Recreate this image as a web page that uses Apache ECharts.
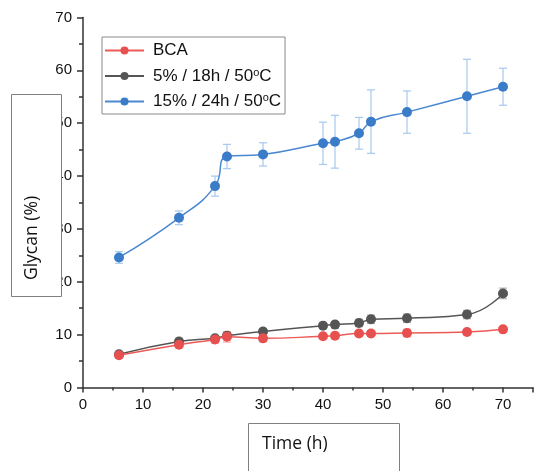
<!DOCTYPE html>
<html>
<head>
<meta charset="utf-8">
<script src="https://cdn.jsdelivr.net/npm/echarts@6/dist/echarts.min.js"></script>
<style>html,body{margin:0;padding:0;background:#fff}#c{width:536px;height:471px}</style>
</head>
<body>
<div id="c"></div>
<script>
var timeH = [6, 16, 22, 24, 30, 40, 42, 46, 48, 54, 64, 70];
var bcaVals = [6.1, 8.1, 9.1, 9.6, 9.3, 9.7, 9.8, 10.2, 10.2, 10.3, 10.5, 11.0];
var bcaErr = [0.5, 0.5, 0.7, 1.0, 0.5, 0.4, 0.4, 0.5, 0.5, 0.7, 0.4, 0.4];
var lowVals = [6.3, 8.7, 9.3, 9.8, 10.6, 11.7, 11.9, 12.2, 12.9, 13.1, 13.8, 17.8];
var lowErr = [0.4, 0.6, 0.5, 0.7, 0.4, 0.4, 0.6, 0.7, 0.8, 0.8, 0.8, 1.0];
var highVals = [24.6, 32.1, 38.1, 43.7, 44.1, 46.2, 46.5, 48.1, 50.3, 52.1, 55.1, 56.9];
var highErr = [1.1, 1.3, 1.9, 2.3, 2.2, 4.0, 5.0, 3.0, 6.0, 4.0, 7.0, 3.5];
var seriesNames = ['BCA', '5% / 18h / 50\u00BAC', '15% / 24h / 50\u00BAC'];
var xTicks = [0, 10, 20, 30, 40, 50, 60, 70];
var yTicks = [0, 10, 20, 30, 40, 50, 60, 70];

function pts(v) { return timeH.map(function (t, i) { return [t, v[i]]; }); }
function errPts(v, e) { return timeH.map(function (t, i) { return [t, v[i], e[i]]; }); }

function errSeries(v, e, color, z) {
  return {
    type: 'custom', silent: true, z: z,
    data: errPts(v, e),
    renderItem: function (params, api) {
      var x = api.value(0), y = api.value(1), d = api.value(2);
      var top = api.coord([x, y + d]);
      var bot = api.coord([x, y - d]);
      var hw = 4;
      var st = { stroke: color, lineWidth: 1.2 };
      return {
        type: 'group',
        children: [
          { type: 'line', shape: { x1: top[0], y1: top[1], x2: bot[0], y2: bot[1] }, style: st },
          { type: 'line', shape: { x1: top[0] - hw, y1: top[1], x2: top[0] + hw, y2: top[1] }, style: st },
          { type: 'line', shape: { x1: bot[0] - hw, y1: bot[1], x2: bot[0] + hw, y2: bot[1] }, style: st }
        ]
      };
    }
  };
}

function lineSeries(name, v, color, lineColor, z) {
  return {
    name: name, type: 'line', data: pts(v), smooth: 0.5, z: z,
    symbol: 'circle', symbolSize: 10,
    itemStyle: { color: color },
    lineStyle: { color: lineColor, width: 1.5 },
    emphasis: { disabled: true }
  };
}

var chart = echarts.init(document.getElementById('c'));
var axisFont = 'Liberation Sans';
chart.setOption({
  animation: false,
  grid: { left: 83, right: -7, top: 17.5, bottom: 83.5, containLabel: false },
  legend: {
    left: 102, top: 37,
    orient: 'vertical',
    data: seriesNames,
    itemWidth: 39, itemHeight: 10, itemGap: 8,
    padding: [5, 4, 4, 2],
    borderColor: '#8a8a8a', borderWidth: 1,
    backgroundColor: '#fff',
    textStyle: {
      fontFamily: axisFont, fontSize: 17, color: '#111', padding: [0, 0, 0, 4],
      rich: { sup: { fontFamily: axisFont, fontSize: 11, verticalAlign: 'top', padding: [0, 0, 7, 0], color: '#111' } }
    },
    formatter: function (n) { return n.replace('\u00BAC', '{sup|o}C'); },
    selectedMode: false
  },
  xAxis: {
    type: 'value', min: 0, max: 75, interval: 10,
    axisLine: { lineStyle: { color: '#333', width: 1.5 } },
    axisTick: { length: 5, lineStyle: { color: '#333', width: 1.5 } },
    minorTick: { show: true, splitNumber: 2, length: 3, lineStyle: { color: '#333', width: 1.5 } },
    splitLine: { show: false },
    axisLabel: {
      margin: 10, fontFamily: axisFont, fontSize: 15, color: '#111',
      formatter: function (v) { return xTicks.indexOf(v) >= 0 ? String(v) : ''; }
    }
  },
  yAxis: {
    type: 'value', min: 0, max: 70, interval: 10,
    axisLine: { show: true, lineStyle: { color: '#333', width: 1.5 } },
    axisTick: { show: true, length: 6, lineStyle: { color: '#333', width: 1.5 } },
    minorTick: { show: true, splitNumber: 2, length: 4, lineStyle: { color: '#333', width: 1.5 } },
    splitLine: { show: false },
    axisLabel: {
      margin: 11, fontFamily: axisFont, fontSize: 15, color: '#111',
      formatter: function (v) { return yTicks.indexOf(v) >= 0 ? String(v) : ''; }
    }
  },
  series: [
    errSeries(highVals, highErr, '#a6c8ee', 2),
    errSeries(lowVals, lowErr, '#b5b5b5', 2),
    errSeries(bcaVals, bcaErr, '#f3a9a8', 2),
    lineSeries(seriesNames[2], highVals, '#3b7cc8', '#4a88d2', 3),
    lineSeries(seriesNames[1], lowVals, '#555555', '#555555', 4),
    lineSeries(seriesNames[0], bcaVals, '#e8504f', '#ec5a58', 5)
  ],
  graphic: [
    { type: 'rect', zlevel: 1, z: 100, shape: { x: 11.5, y: 94.5, width: 50, height: 202 }, style: { fill: '#fff', stroke: '#808080', lineWidth: 1 } },
    { type: 'text', zlevel: 1, z: 101, x: 32, y: 238, rotation: Math.PI / 2,
      style: { text: 'Glycan (%)', fontFamily: 'Open Sans', fontSize: 17.5, fill: '#111', align: 'center', verticalAlign: 'middle' } },
    { type: 'rect', zlevel: 1, z: 100, shape: { x: 248.5, y: 423.5, width: 151, height: 60 }, style: { fill: '#fff', stroke: '#808080', lineWidth: 1 } },
    { type: 'text', zlevel: 1, z: 101, x: 262, y: 444,
      style: { text: 'Time (h)', fontFamily: 'Open Sans', fontSize: 17.5, fill: '#111', align: 'left', verticalAlign: 'middle' } }
  ]
});
</script>
</body>
</html>
